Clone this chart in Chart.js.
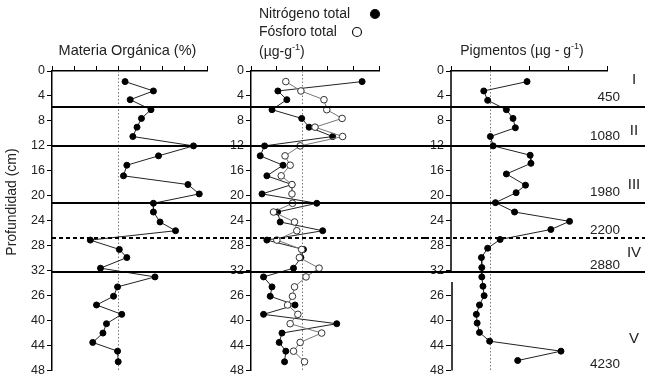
<!DOCTYPE html>
<html>
<head>
<meta charset="utf-8">
<script src="https://cdn.jsdelivr.net/npm/chart.js@4.4.0/dist/chart.umd.min.js"></script>
<style>
  body { margin: 0; background: #fff; }
  #fig { position: relative; width: 645px; height: 380px; }
  canvas { position: absolute; top: 0; }
</style>
</head>
<body>
<div id="fig">
  <canvas id="mo" width="225" height="380" style="left:0"></canvas>
  <canvas id="np" width="200" height="380" style="left:225px"></canvas>
  <canvas id="pig" width="220" height="380" style="left:425px"></canvas>
</div>
<script>
// profundidades de muestreo (cm)
const profundidad = [1.7, 3.2, 4.6, 6.2, 7.6, 9.0, 10.5, 12.0, 13.6, 15.1, 16.8, 18.2, 19.7, 21.2, 22.6, 24.2,
  25.6, 27.1, 28.6, 29.9, 31.6, 33.0, 34.6, 36.1, 37.5, 39.0, 40.5, 42.0, 43.5, 44.9, 46.6];
const profPigmentos = [1.7, 3.2, 4.7, 6.2, 7.6, 9.1, 10.5, 12.0, 13.5, 14.8, 16.5, 18.3, 19.5, 21.1, 22.6, 24.1,
  25.4, 27.0, 28.4, 29.9, 31.5, 33.0, 34.5, 36.0, 37.5, 39.0, 40.4, 41.9, 43.3, 44.9, 46.4];

// valores (unidades de la escala superior, sin etiquetas)
const materiaOrganica = [3.3, 4.58, 3.53, 4.47, 4.04, 3.84, 3.65, 6.39, 4.81, 3.38, 3.23, 6.14, 6.65, 4.58, 4.58, 4.88,
  5.58, 1.73, 3.04, 3.38, 2.19, 4.65, 2.96, 2.78, 2.01, 3.15, 2.46, 2.30, 1.84, 2.96, 2.99];
const nitrogeno = [4.34, 1.05, 1.40, 0.82, 1.98, 2.27, 3.19, 0.53, 0.36, 1.25, 0.62, 1.60, 0.43, 2.57, 1.04, 1.14,
  2.80, 0.62, 2.05, 1.95, 1.66, 0.49, 0.82, 0.75, 1.72, 0.49, 3.35, 1.21, 1.10, 1.36, 1.31];
const fosforo = [1.36, 1.95, 2.85, 2.96, 3.56, 2.50, 3.58, 1.92, 1.33, 1.53, 1.18, 1.60, 1.60, 1.62, 0.88, 1.70,
  1.79, 1.01, 1.98, 1.89, 2.66, 2.15, 1.70, 1.62, 1.43, 1.83, 1.53, 2.76, 1.92, 1.66, 2.09];
const pigmentos = [1.95, 0.84, 0.94, 1.42, 1.59, 1.65, 1.01, 1.08, 2.03, 2.05, 1.42, 1.91, 1.67, 1.14, 1.63, 3.04,
  2.56, 1.26, 0.94, 0.78, 0.79, 0.79, 0.82, 0.85, 0.73, 0.65, 0.67, 0.73, 0.99, 2.82, 1.71];

// eje de profundidad (tal cual en la figura original)
const etiquetasProf = ['0', '4', '8', '12', '16', '20', '24', '28', '32', '26', '40', '44', '48'];

// limites entre zonas
const limitesZona = [5.8, 12.0, 21.1, 32.2];
const limiteDiscontinuo = [26.8];
const zonas = ['I', 'II', 'III', 'IV', 'V'];
const profZonas = [1.4, 9.6, 18.2, 29.2, 43.0];
const anios = ['450', '1080', '1980', '2200', '2880', '4230'];
const profAnios = [4.2, 10.5, 19.4, 25.5, 31.1, 47.0];

const FAM = 'Arial, "Liberation Sans", sans-serif';

function puntos(prof, vals) {
  return prof.map((p, i) => ({ x: vals[i], y: p }));
}

// texto con segmentos (para superindices)
function dibujarTexto(ctx, segs, x, y, align, size) {
  const fuente = s => (s.sup ? (size * 0.65) : size) + 'px ' + FAM;
  let total = 0;
  segs.forEach(s => { ctx.font = fuente(s); total += ctx.measureText(s.t).width; });
  let cx = align === 'center' ? x - total / 2 : (align === 'right' ? x - total : x);
  ctx.textAlign = 'left';
  ctx.textBaseline = 'middle';
  segs.forEach(s => {
    ctx.font = fuente(s);
    ctx.fillText(s.t, cx, s.sup ? y - size * 0.35 : y);
    cx += ctx.measureText(s.t).width;
  });
}

const marco = {
  id: 'marco',
  beforeDatasetsDraw(chart, args, opts) {
    const { ctx, chartArea: a, scales: { x } } = chart;
    ctx.save();
    ctx.strokeStyle = '#777';
    ctx.lineWidth = 1;
    ctx.setLineDash([1.5, 2]);
    const xr = Math.round(x.getPixelForValue(opts.ref)) + 0.5;
    ctx.beginPath();
    ctx.moveTo(xr, a.top);
    ctx.lineTo(xr, a.bottom);
    ctx.stroke();
    ctx.restore();
  },
  afterDraw(chart, args, opts) {
    const { ctx, chartArea: a, scales: { y } } = chart;
    ctx.save();
    // eje izquierdo con hueco
    if (opts.hueco) {
      const xe = Math.round(a.left);
      ctx.strokeStyle = '#000';
      ctx.lineWidth = 1.5;
      ctx.beginPath();
      ctx.moveTo(xe, a.top);
      ctx.lineTo(xe, y.getPixelForValue(opts.hueco[0]));
      ctx.moveTo(xe + 1, y.getPixelForValue(opts.hueco[1]));
      ctx.lineTo(xe + 1, a.bottom);
      ctx.stroke();
    }
    // lineas horizontales de zonas
    const x0 = opts.desdeEje ? a.left : 0;
    ctx.strokeStyle = '#000';
    ctx.lineWidth = 2;
    limitesZona.forEach(p => {
      const py = Math.round(y.getPixelForValue(p));
      ctx.beginPath();
      ctx.moveTo(x0, py);
      ctx.lineTo(chart.width, py);
      ctx.stroke();
    });
    ctx.setLineDash([4, 3]);
    limiteDiscontinuo.forEach(p => {
      const py = Math.round(y.getPixelForValue(p));
      ctx.beginPath();
      ctx.moveTo(x0, py);
      ctx.lineTo(chart.width, py);
      ctx.stroke();
    });
    ctx.setLineDash([]);

    ctx.fillStyle = '#222';
    (opts.textos || []).forEach(t => {
      if (t.rot) {
        ctx.save();
        ctx.translate(t.x, t.y);
        ctx.rotate(-Math.PI / 2);
        dibujarTexto(ctx, t.segs, 0, 0, 'center', t.size);
        ctx.restore();
      } else {
        dibujarTexto(ctx, t.segs, t.x, t.y, t.align, t.size);
      }
    });
    (opts.circulos || []).forEach(c => {
      ctx.beginPath();
      ctx.arc(c.x, c.y, 4.5, 0, Math.PI * 2);
      ctx.lineWidth = 1.2;
      ctx.strokeStyle = '#111';
      ctx.fillStyle = c.lleno ? '#000' : '#fff';
      ctx.fill();
      ctx.stroke();
    });
    ctx.fillStyle = '#222';
    if (opts.zonas) {
      anios.forEach((t, i) => dibujarTexto(ctx, [{ t }], 195, y.getPixelForValue(profAnios[i]), 'right', 13.5));
      zonas.forEach((t, i) => dibujarTexto(ctx, [{ t }], 209, y.getPixelForValue(profZonas[i]), 'center', 15));
    }
    ctx.restore();
  }
};

function panel(id, xMax, padRight, yWidth, datasets, opts) {
  return new Chart(document.getElementById(id), {
    type: 'scatter',
    data: { datasets },
    options: {
      responsive: false,
      animation: false,
      layout: { padding: { left: 0, right: padRight, top: 0, bottom: 6 }, autoPadding: false },
      plugins: { legend: { display: false }, tooltip: { enabled: false }, marco: opts },
      scales: {
        x: {
          type: 'linear', position: 'top', min: 0, max: xMax,
          ticks: { display: false, stepSize: 1 },
          grid: { drawOnChartArea: false, drawTicks: true, tickLength: 5, color: '#000', lineWidth: 1 },
          border: { display: true, color: '#000', width: 1.5 },
          afterFit: s => { s.height = 71; }
        },
        y: {
          type: 'linear', reverse: true, min: 0, max: 48,
          ticks: {
            stepSize: 4, autoSkip: false, padding: 2, color: '#222',
            font: { family: FAM, size: 12.5 },
            callback: v => etiquetasProf[v / 4]
          },
          grid: { drawOnChartArea: false, drawTicks: true, tickLength: 5, color: '#000', lineWidth: 1 },
          border: { display: !opts.hueco, color: '#000', width: 1.5 },
          afterFit: s => { s.width = yWidth; }
        }
      }
    },
    plugins: [marco]
  });
}

const lleno = { showLine: true, borderColor: '#222', borderWidth: 1, backgroundColor: '#000',
  pointBackgroundColor: '#000', pointBorderColor: '#000', pointRadius: 3 };

panel('mo', 7, 18, 52, [
  Object.assign({ label: 'Materia Orgánica', data: puntos(profundidad, materiaOrganica) }, lleno)
], {
  ref: 3, desdeEje: true,
  textos: [
    { segs: [{ t: 'Materia Orgánica (%)' }], x: 127.5, y: 51, align: 'center', size: 14.5 },
    { segs: [{ t: 'Profundidad (cm)' }], x: 12, y: 202, rot: true, size: 14 }
  ]
});

panel('np', 5, 46, 26, [
  { label: 'Fósforo total', data: puntos(profundidad, fosforo), showLine: true, borderColor: '#777', borderWidth: 1,
    pointBackgroundColor: '#fff', pointBorderColor: '#333', pointBorderWidth: 1, pointRadius: 3.3 },
  Object.assign({ label: 'Nitrógeno total', data: puntos(profundidad, nitrogeno) }, lleno)
], {
  ref: 2,
  textos: [
    { segs: [{ t: 'Nitrógeno total' }], x: 34, y: 14, align: 'left', size: 14 },
    { segs: [{ t: 'Fósforo total' }], x: 34, y: 32, align: 'left', size: 14 },
    { segs: [{ t: '(µg-g' }, { t: '-1', sup: true }, { t: ')' }], x: 34, y: 52, align: 'left', size: 14 }
  ],
  circulos: [{ x: 150, y: 14, lleno: true }, { x: 132, y: 32, lleno: false }]
});

panel('pig', 4, 38, 26, [
  Object.assign({ label: 'Pigmentos', data: puntos(profPigmentos, pigmentos) }, lleno)
], {
  ref: 1, hueco: [32.2, 33.8], zonas: true,
  textos: [
    { segs: [{ t: 'Pigmentos (µg - g' }, { t: '-1', sup: true }, { t: ')' }], x: 97, y: 51, align: 'center', size: 14 }
  ]
});
</script>
</body>
</html>
